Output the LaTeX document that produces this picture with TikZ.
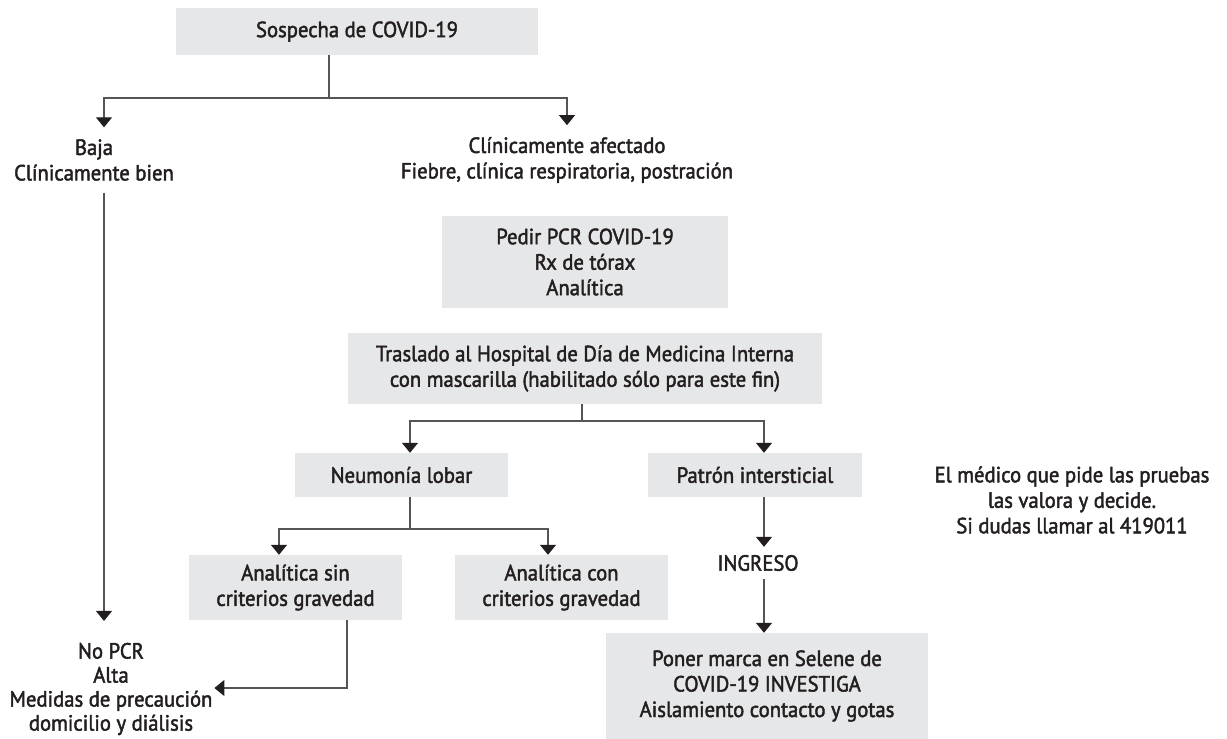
\documentclass[tikz,border=0pt]{standalone}
\usepackage{fontspec}
\setmainfont{PT Sans}[FakeStretch=0.94, FakeBold=2]
\usetikzlibrary{arrows.meta}
\definecolor{boxgray}{HTML}{E6E7E8}
\definecolor{inkgray}{HTML}{231F20}
\definecolor{linegray}{HTML}{555555}
\tikzset{
  box/.style={fill=boxgray, inner sep=0pt, align=center, text=inkgray},
  txt/.style={inner sep=0pt, align=center, text=inkgray},
  link/.style={draw=linegray, line width=1.2pt},
  arr/.style={link, -{Triangle[width=16pt,length=10pt,color=inkgray]}}
}
\begin{document}
\begin{tikzpicture}[x=1pt, y=-1pt, font=\fontsize{22}{25.5}\selectfont]
  \useasboundingbox (0,0) rectangle (1227,739);
  % boxes
  \node[box, minimum width=362pt, minimum height=47pt] (sospecha) at (357,31.5) {Sospecha de COVID-19};
  \node[box, minimum width=286pt, minimum height=92pt] (pedir) at (585,262) {Pedir PCR COVID-19\\Rx de tórax\\Analítica};
  \node[box, minimum width=474pt, minimum height=71pt] (traslado) at (585,368.5) {Traslado al Hospital de Día de Medicina Interna\\con mascarilla (habilitado sólo para este fin)};
  \node[box, minimum width=213pt, minimum height=44pt] (neumonia) at (401.5,475) {Neumonía lobar};
  \node[box, minimum width=214pt, minimum height=44pt] (patron) at (755,475) {Patrón intersticial};
  \node[box, minimum width=213pt, minimum height=65pt] (sin) at (295.5,587.5) {Analítica sin\\criterios gravedad};
  \node[box, minimum width=213pt, minimum height=65pt] (con) at (561.5,587.5) {Analítica con\\criterios gravedad};
  \node[box, minimum width=322pt, minimum height=106pt] (poner) at (767,686) {Poner marca en Selene de\\COVID-19 INVESTIGA\\Aislamiento contacto y gotas};
  % plain texts
  \node[txt, outer ysep=12pt] (baja) at (94,160) {Baja\\Clínicamente bien};
  \node[txt, outer ysep=12pt] (afectado) at (567,160) {Clínicamente afectado\\Fiebre, clínica respiratoria, postración};
  \node[txt, font=\fontsize{22}{24}\selectfont, outer xsep=2pt, outer ysep=22pt] (nopcr) at (111,689) {No PCR\\Alta\\Medidas de precaución\\domicilio y diálisis};
  \node[txt, inner ysep=8pt] (ingreso) at (758,563) {INGRESO};
  \node[txt] (medico) at (1072,500) {El médico que pide las pruebas\\las valora y decide.\\Si dudas llamar al 419011};
  % branch points
  \coordinate (s1) at (329,98);
  \coordinate (t1) at (582,421);
  \coordinate (n1) at (410,529);
  \coordinate (lx) at (104,0);
  \coordinate (px) at (764,0);
  \coordinate (sx) at (279,0);
  \coordinate (cx) at (548,0);
  \coordinate (rx) at (347,688);
  % connectors
  \draw[link] (sospecha.south -| s1) -- (s1);
  \draw[arr] (s1) -| (baja.north -| lx);
  \draw[arr] (s1) -| (afectado.north);
  \draw[arr] (baja.south -| lx) -- (nopcr.north -| lx);
  \draw[link] (traslado.south -| t1) -- (t1);
  \draw[arr] (t1) -| (neumonia.north -| n1);
  \draw[arr] (t1) -| (patron.north -| px);
  \draw[link] (neumonia.south -| n1) -- (n1);
  \draw[arr] (n1) -| (sin.north -| sx);
  \draw[arr] (n1) -| (con.north -| cx);
  \draw[arr] (sin.south -| rx) |- (nopcr.east |- rx);
  \draw[arr] (patron.south -| px) -- (ingreso.north -| px);
  \draw[arr] (ingreso.south -| px) -- (poner.north -| px);
\end{tikzpicture}
\end{document}
